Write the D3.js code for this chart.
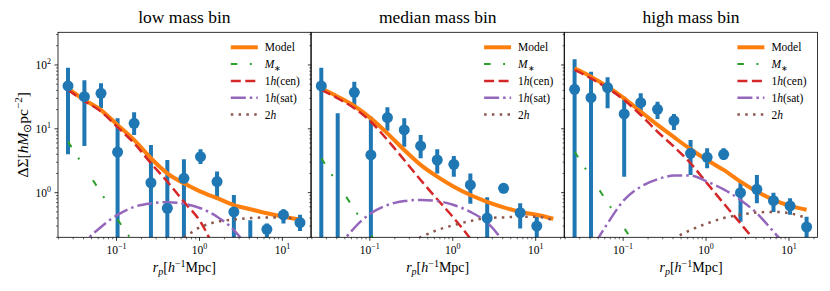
<!DOCTYPE html>
<html>
<head>
<meta charset="utf-8">
<script src="https://cdn.jsdelivr.net/npm/d3@7"></script>
<style>
body { margin: 0; background: #fff; }
</style>
</head>
<body>
<script>
// projected radius of the bins, h^-1 Mpc
var rp = [0.026, 0.041, 0.065, 0.103, 0.163, 0.26, 0.41, 0.65, 1.03, 1.63, 2.6, 4.1, 6.5, 10.3, 16.3];

var titles = ['low mass bin', 'median mass bin', 'high mass bin'];

// measured Delta Sigma and its error bar ends (0.01 = off the bottom of the plot)
var lowSigma = [46.9, 31.9, 36, 4.33, 12.2, 1.43, 0.57, 1.68, 3.66, 1.49, 0.50, 0.1, 0.267, 0.448, 0.34];
var lowUpper = [90.7, 57.5, 51.6, 14.6, 18.2, 5.6, 3.25, 3.33, 4.78, 2.14, 0.92, 0.37, 0.33, 0.55, 0.45];
var lowLower = [4.0, 5.4, 21, 0.01, 8.0, 0.01, 0.01, 0.01, 2.82, 0.79, 0.01, 0.01, 0.01, 0.33, 0.25];

var medSigma = [46.9, 0.1, 37.3, 3.9, 15, 9.6, 5.4, 3.25, 2.78, 1.32, 0.4, 1.17, 0.486, 0.30, 0.1];
var medUpper = [90.7, 17.5, 54.8, 15.5, 21.7, 14.6, 8.0, 4.8, 3.76, 2.0, 0.85, 1.4, 0.68, 0.42, 0.15];
var medLower = [0.01, 0.01, 22.2, 0.01, 9.3, 5.25, 3.46, 2.0, 1.78, 0.67, 0.01, 0.98, 0.275, 0.19, 0.01];

var highSigma = [41.6, 30.7, 44.2, 17.1, 25.7, 20.2, 13.4, 4.14, 3.58, 3.98, 1.0, 1.13, 0.75, 0.62, 0.29];
var highUpper = [122.7, 78.5, 64.1, 31.9, 36, 26.6, 17.1, 6.7, 4.96, 4.96, 1.49, 1.89, 1.0, 0.82, 0.42];
var highLower = [0.01, 0.01, 21, 1.78, 16.5, 14.3, 9.6, 1.89, 2.41, 3.25, 0.35, 0.68, 0.50, 0.45, 0.19];

// model curves read at the same radii
var lowModel = [43.2, 28.3, 19.7, 11.5, 6.68, 3.46, 2.01, 1.40, 1.04, 0.82, 0.64, 0.55, 0.475, 0.42, 0.38];
var lowMstar = [6.3, 2.5, 1.0, 0.38, 0.16, 0.063, 0.025, 0.01, 0.004, 0.0016, 0.0006, 0.0003, 0.0001, 0.00004, 0.00002];
var lowCen = [40.6, 27.3, 18.6, 10.6, 5.94, 2.89, 1.49, 0.72, 0.35, 0.11, 0.035, 0.01, 0.003, 0.001, 0.0003];
var lowSat = [0.05, 0.16, 0.29, 0.45, 0.60, 0.68, 0.71, 0.67, 0.57, 0.42, 0.26, 0.12, 0.04, 0.01, 0.003];
var lowTwo = [0.02, 0.03, 0.04, 0.05, 0.07, 0.1, 0.15, 0.2, 0.29, 0.35, 0.38, 0.40, 0.41, 0.41, 0.37];

var medModel = [43.2, 31.9, 22.8, 14.6, 8.5, 4.67, 2.72, 1.78, 1.24, 0.92, 0.72, 0.59, 0.50, 0.45, 0.39];
var medMstar = [3.46, 1.38, 0.55, 0.22, 0.087, 0.035, 0.014, 0.0055, 0.0022, 0.0009, 0.0004, 0.0001, 0.00006, 0.00002, 0.00001];
var medCen = [40.6, 30, 21, 12.9, 6.7, 3.25, 1.58, 0.79, 0.40, 0.19, 0.08, 0.03, 0.01, 0.004, 0.001];
var medSat = [0.02, 0.12, 0.28, 0.475, 0.64, 0.74, 0.77, 0.74, 0.64, 0.50, 0.34, 0.17, 0.07, 0.02, 0.005];
var medTwo = [0.02, 0.03, 0.04, 0.06, 0.1, 0.15, 0.2, 0.26, 0.31, 0.36, 0.40, 0.41, 0.42, 0.42, 0.37];

var highModel = [88.7, 65.6, 45.7, 30, 18.6, 11.5, 7.4, 4.79, 3.25, 2.27, 1.49, 1.04, 0.77, 0.62, 0.54];
var highMstar = [4.38, 1.75, 0.70, 0.28, 0.11, 0.044, 0.018, 0.007, 0.0028, 0.0011, 0.0004, 0.0002, 0.00007, 0.00003, 0.00001];
var highCen = [83.5, 61.7, 43.2, 28.3, 16.5, 9.0, 5.25, 2.89, 1.40, 0.68, 0.33, 0.16, 0.07, 0.03, 0.01];
var highSat = [0.03, 0.12, 0.33, 0.77, 1.24, 1.62, 1.85, 1.85, 1.49, 1.13, 0.77, 0.475, 0.245, 0.12, 0.04];
var highTwo = [0.02, 0.03, 0.04, 0.05, 0.08, 0.12, 0.19, 0.26, 0.33, 0.40, 0.45, 0.49, 0.50, 0.475, 0.40];

var panels = [
    { sigma: lowSigma, upper: lowUpper, lower: lowLower, curves: [lowModel, lowMstar, lowCen, lowSat, lowTwo] },
    { sigma: medSigma, upper: medUpper, lower: medLower, curves: [medModel, medMstar, medCen, medSat, medTwo] },
    { sigma: highSigma, upper: highUpper, lower: highLower, curves: [highModel, highMstar, highCen, highSat, highTwo] }
];

var lineStyles = [
    { color: '#ff7f0e', width: 4, dash: null },
    { color: '#2ca02c', width: 2, dash: '6.5,12.5,2,25' },
    { color: '#d62728', width: 2.5, dash: '10,4.5' },
    { color: '#9467bd', width: 2.5, dash: '15,4,2.5,4' },
    { color: '#8c564b', width: 2.5, dash: '2.5,5.3' }
];

var width = 830,
    height = 291,
    plotTop = 32.3,
    plotBottom = 237.3,
    panelW = 252.8,
    panelLefts = [58, 311.3, 564.6],
    xDomain = [0.0197, 22],
    yDomain = [0.2, 325],
    serif = "'Liberation Serif', 'Times New Roman', Times, serif";

var svg = d3.select('body').append('svg')
    .attr('width', width)
    .attr('height', height)
    .attr('font-family', serif)
    .style('font-family', serif);

function powLabel(text, exp) {
    text.append('tspan').text('10');
    text.append('tspan')
        .attr('dy', -5)
        .attr('font-size', 8)
        .text(exp < 0 ? '\u2212' + (-exp) : exp);
}

function legendLabel(text, i) {
    if (i === 0) {
        text.text('Model');
    } else if (i === 1) {
        text.append('tspan').attr('font-style', 'italic').text('M');
        text.append('tspan').attr('dy', 3).attr('font-size', 8).text('\u2217');
    } else if (i === 4) {
        text.append('tspan').text('2');
        text.append('tspan').attr('font-style', 'italic').text('h');
    } else {
        text.append('tspan').text('1');
        text.append('tspan').attr('font-style', 'italic').text('h');
        text.append('tspan').text(i === 2 ? '(cen)' : '(sat)');
    }
}

function isPow(d) {
    var e = Math.log10(d);
    return Math.abs(e - Math.round(e)) < 1e-6;
}

function drawPanel(p, i) {
    var x0 = panelLefts[i];
    var x = d3.scaleLog().domain(xDomain).range([x0, x0 + panelW]);
    var y = d3.scaleLog().domain(yDomain).range([plotBottom, plotTop]);
    var g = svg.append('g');

    g.append('clipPath').attr('id', 'clip' + i)
        .append('rect')
        .attr('x', x0).attr('y', plotTop)
        .attr('width', panelW).attr('height', plotBottom - plotTop);

    var inner = g.append('g').attr('clip-path', 'url(#clip' + i + ')');

    // error bars go under the model lines, markers over them
    inner.selectAll('line.err')
        .data(rp)
        .enter().append('line')
        .attr('class', 'err')
        .attr('x1', function(d) { return x(d); })
        .attr('x2', function(d) { return x(d); })
        .attr('y1', function(d, k) { return y(p.lower[k]); })
        .attr('y2', function(d, k) { return y(p.upper[k]); })
        .attr('stroke', '#1f77b4')
        .attr('stroke-width', 4);

    var line = d3.line()
        .x(function(d, k) { return x(rp[k]); })
        .y(function(d) { return y(d); })
        .curve(d3.curveMonotoneX);

    p.curves.forEach(function(c, k) {
        var s = lineStyles[k];
        inner.append('path')
            .attr('d', line(c))
            .attr('fill', 'none')
            .attr('stroke', s.color)
            .attr('stroke-width', s.width)
            .attr('stroke-dasharray', s.dash);
    });

    inner.selectAll('circle')
        .data(rp)
        .enter().append('circle')
        .attr('cx', function(d) { return x(d); })
        .attr('cy', function(d, k) { return y(p.sigma[k]); })
        .attr('r', 5.5)
        .attr('fill', '#1f77b4');

    // ticks, pointing outwards
    var xt = x.ticks();
    g.selectAll('line.xt')
        .data(xt)
        .enter().append('line')
        .attr('x1', function(d) { return x(d); })
        .attr('x2', function(d) { return x(d); })
        .attr('y1', plotBottom)
        .attr('y2', function(d) { return plotBottom + (isPow(d) ? 3.5 : 2); })
        .attr('stroke', '#000')
        .attr('stroke-width', function(d) { return isPow(d) ? 0.8 : 0.6; });

    xt.filter(isPow).forEach(function(d) {
        var t = g.append('text')
            .attr('x', x(d))
            .attr('y', 253.5)
            .attr('text-anchor', 'middle')
            .attr('font-size', 11.5);
        powLabel(t, Math.round(Math.log10(d)));
    });

    var yt = y.ticks();
    g.selectAll('line.yt')
        .data(yt)
        .enter().append('line')
        .attr('y1', function(d) { return y(d); })
        .attr('y2', function(d) { return y(d); })
        .attr('x1', x0)
        .attr('x2', function(d) { return x0 - (isPow(d) ? 3.5 : 2); })
        .attr('stroke', '#000')
        .attr('stroke-width', function(d) { return isPow(d) ? 0.8 : 0.6; });

    if (i === 0) {
        yt.filter(isPow).forEach(function(d) {
            var t = g.append('text')
                .attr('x', x0 - 7)
                .attr('y', y(d) + 4)
                .attr('text-anchor', 'end')
                .attr('font-size', 11.5);
            powLabel(t, Math.round(Math.log10(d)));
        });
    }

    g.append('rect')
        .attr('x', x0).attr('y', plotTop)
        .attr('width', panelW).attr('height', plotBottom - plotTop)
        .attr('fill', 'none')
        .attr('stroke', '#000')
        .attr('stroke-width', 0.8);

    g.append('text')
        .attr('x', x0 + panelW / 2)
        .attr('y', 23)
        .attr('text-anchor', 'middle')
        .attr('font-size', 17.5)
        .text(titles[i]);

    // x label
    var xl = g.append('text')
        .attr('x', x0 + panelW / 2)
        .attr('y', 272)
        .attr('text-anchor', 'middle')
        .attr('font-size', 14);
    xl.append('tspan').attr('font-style', 'italic').text('r');
    xl.append('tspan').attr('font-style', 'italic').attr('font-size', 10).attr('dy', 3).text('p');
    xl.append('tspan').attr('dy', -3).text('[');
    xl.append('tspan').attr('font-style', 'italic').text('h');
    xl.append('tspan').attr('font-size', 10).attr('dy', -5).text('\u22121');
    xl.append('tspan').attr('dy', 5).text('Mpc]');

    // legend
    var right = x0 + panelW;
    lineStyles.forEach(function(s, k) {
        var ly = plotTop + 15 + k * 16.8;
        g.append('line')
            .attr('x1', right - 80).attr('x2', right - 53)
            .attr('y1', ly).attr('y2', ly)
            .attr('stroke', s.color)
            .attr('stroke-width', s.width)
            .attr('stroke-dasharray', s.dash);
        var t = g.append('text')
            .attr('x', right - 46)
            .attr('y', ly + 4)
            .attr('font-size', 11.5);
        legendLabel(t, k);
    });
}

panels.forEach(drawPanel);

// shared y label
var yl = svg.append('text')
    .attr('transform', 'translate(28,' + ((plotTop + plotBottom) / 2) + ')rotate(-90)')
    .attr('text-anchor', 'middle')
    .attr('font-size', 15.5);
yl.append('tspan').text('\u0394\u03a3[');
yl.append('tspan').attr('font-style', 'italic').text('hM');
yl.append('tspan').attr('font-size', 11).attr('dy', 3).text('\u2299');
yl.append('tspan').attr('dy', -3).text('pc');
yl.append('tspan').attr('font-size', 11).attr('dy', -6).text('\u22122');
yl.append('tspan').attr('dy', 6).text(']');
</script>
</body>
</html>
